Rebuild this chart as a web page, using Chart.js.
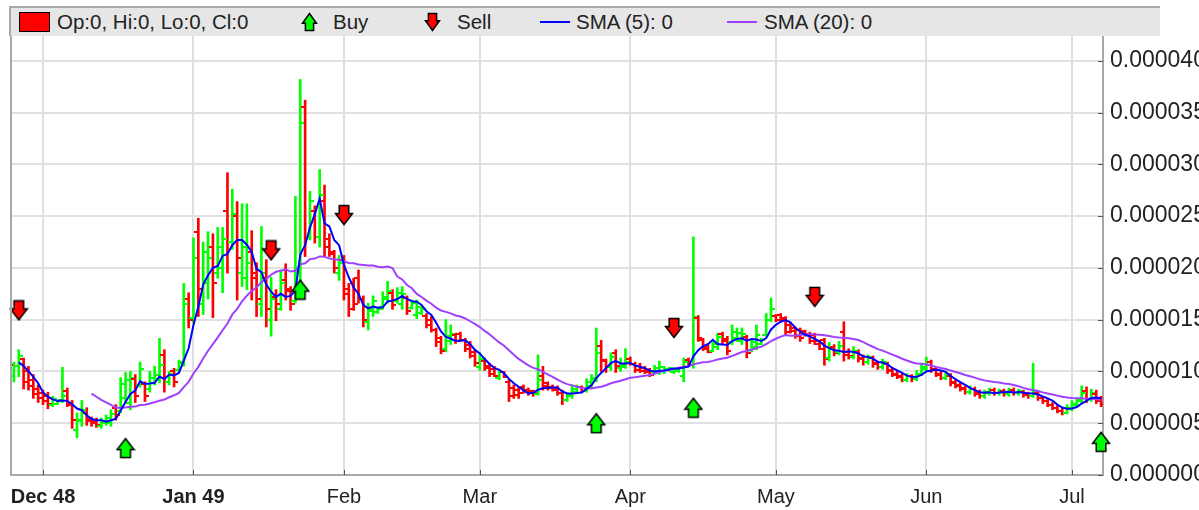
<!DOCTYPE html>
<html>
<head>
<meta charset="utf-8">
<title>OHLC with SMA</title>
<script src="https://cdn.jsdelivr.net/npm/chart.js@4.4.1/dist/chart.umd.min.js"></script>
<style>
  html, body { margin: 0; padding: 0; background: #ffffff; }
  #wrap { position: relative; width: 1199px; height: 510px; overflow: hidden; }
  #chart { position: absolute; left: 0; top: 0; }
  #legend {
    position: absolute; left: 9px; top: 6px; width: 1151px; height: 30px;
    box-sizing: border-box; background: #e6e6e6;
    border-top: 2px solid #a8a8a8; border-left: 2px solid #a8a8a8;
    font: 20.5px "Liberation Sans", Arial, sans-serif; color: #222;
  }
  #legend .txt { position: absolute; top: 0; height: 28px; line-height: 28px; white-space: nowrap; }
  #legend .box { position: absolute; top: 4px; left: 8px; width: 31px; height: 20px; box-sizing: border-box;
                 background: #ff0000; border: 1px solid #000; }
  #legend .ln { position: absolute; top: 13px; width: 30px; height: 2px; }
  #legend canvas { position: absolute; top: 4px; }
</style>
</head>
<body>
<div id="wrap">
  <canvas id="chart" width="1199" height="510"></canvas>
  <div id="legend">
    <div class="box"></div>
    <div class="txt" style="left:46px">Op:0, Hi:0, Lo:0, Cl:0</div>
    <span id="legBuy"></span>
    <div class="txt" style="left:322px">Buy</div>
    <span id="legSell"></span>
    <div class="txt" style="left:446px">Sell</div>
    <div class="ln" style="left:529px;background:#0000ff"></div>
    <div class="txt" style="left:565px">SMA (5): 0</div>
    <div class="ln" style="left:716px;background:#a040ff"></div>
    <div class="txt" style="left:753px">SMA (20): 0</div>
  </div>
</div>
<script>
// values in units of 1e-6, one bar per calendar day, day 0 = 1 Dec 48
const firstDay = -9;

const open = [
  12.3, 10.8, 11.0, 9.6, 10.5, 11.2, 10.0, 9.2, 8.3,
  7.9, 7.6, 6.8, 6.9, 7.2, 8.1, 6.8, 4.3, 5.3, 6.0,
  5.4, 5.2, 4.7, 5.0, 5.0, 6.5, 6.2, 7.4, 7.0, 9.3,
  8.7, 8.8, 8.3, 8.9, 9.3, 11.6, 9.0, 10.0, 10.1, 10.8,
  17.0, 15.2, 23.5, 16.5, 18.5, 22.0, 19.5, 20.0, 25.5, 22.5,
  25.0, 19.5, 19.0, 21.5, 19.5, 16.5, 19.0, 15.0, 17.2, 16.0,
  18.8, 17.8, 16.8, 18.0, 35.5, 23.0, 25.5, 23.0, 26.5, 22.8,
  21.3, 19.5, 20.8, 18.0, 18.5, 19.0, 17.0, 14.8, 15.8, 15.7,
  16.2, 17.0, 17.6, 16.8, 16.5, 17.1, 16.1, 15.5, 15.6, 15.4,
  15.0, 14.0, 13.2, 12.2, 12.9, 13.5, 13.6, 13.0, 12.6, 11.9,
  10.4, 11.0, 10.5, 10.2, 9.4, 9.9, 9.0, 8.4, 8.2, 8.5,
  8.2, 8.1, 7.8, 9.6, 8.9, 8.5, 8.3, 7.9, 7.2, 7.6,
  8.0, 8.5, 8.1, 8.6, 9.3, 12.5, 11.1, 10.4, 11.8, 10.3,
  10.4, 11.2, 10.7, 10.5, 10.3, 10.1, 9.9, 9.9, 10.0, 10.1,
  9.9, 10.0, 9.6, 11.1, 10.6, 15.2, 13.0, 12.4, 12.0, 12.4,
  13.6, 13.1, 12.8, 13.2, 12.9, 13.3, 12.1, 12.4, 12.7, 13.5,
  15.0, 15.4, 15.5, 15.2, 14.5, 14.2, 14.0, 13.9, 13.6, 13.5,
  12.9, 13.0, 11.3, 12.4, 11.9, 13.8, 11.9, 11.4, 11.9, 11.3,
  10.9, 11.3, 10.8, 10.4, 10.7, 10.1, 9.8, 9.6, 9.2, 9.6,
  9.3, 9.8, 10.2, 10.9, 10.2, 9.8, 9.4, 9.6, 9.0, 8.7,
  8.4, 8.0, 8.3, 7.9, 7.6, 7.9, 8.2, 7.9, 8.1, 7.8,
  8.2, 7.9, 8.0, 7.8, 7.6, 7.9, 7.4, 7.1, 6.8, 6.5,
  6.2, 6.0, 6.4, 6.8, 7.1, 8.1, 7.3, 7.8, 7.2
];

const high = [
  12.8, 12.2, 12.5, 10.9, 12.1, 11.3, 10.5, 9.7, 8.7,
  8.2, 8.0, 7.6, 7.2, 10.4, 8.4, 7.2, 6.0, 7.2, 6.5,
  5.6, 5.5, 5.5, 5.8, 6.3, 6.8, 9.4, 9.9, 10.0, 9.7,
  10.9, 9.0, 10.0, 10.5, 13.2, 12.1, 10.0, 10.3, 11.1, 18.5,
  17.6, 22.9, 24.8, 22.5, 23.5, 23.3, 23.9, 23.9, 29.2, 27.6,
  26.4, 26.2, 26.2, 23.6, 20.5, 24.0, 20.8, 19.1, 17.9, 19.8,
  20.4, 18.2, 26.9, 38.2, 36.2, 27.4, 26.0, 29.5, 28.0, 23.3,
  21.7, 21.2, 21.2, 18.5, 19.0, 19.8, 17.3, 16.6, 17.3, 16.2,
  17.7, 18.7, 17.9, 18.1, 18.2, 17.3, 16.9, 16.9, 16.3, 15.6,
  15.3, 14.2, 13.4, 15.0, 14.5, 13.7, 13.8, 13.2, 12.9, 12.1,
  11.8, 11.3, 10.8, 10.5, 10.1, 10.0, 9.2, 8.7, 8.5, 8.7,
  8.4, 8.2, 11.6, 10.5, 9.0, 8.7, 8.6, 8.2, 7.9, 8.7,
  8.7, 8.6, 9.3, 9.7, 14.2, 13.0, 11.2, 11.8, 12.1, 11.3,
  12.2, 11.4, 10.9, 10.8, 10.5, 10.3, 10.6, 11.0, 10.5, 10.4,
  10.3, 10.3, 11.3, 11.3, 23.0, 15.4, 13.2, 12.7, 13.0, 13.7,
  13.8, 13.4, 14.5, 14.2, 14.2, 13.5, 13.0, 14.5, 13.2, 15.6,
  17.1, 15.5, 15.6, 15.3, 14.7, 14.3, 14.2, 14.0, 13.8, 13.7,
  13.0, 13.2, 12.8, 12.6, 12.9, 14.8, 12.2, 12.4, 12.1, 11.6,
  11.6, 11.5, 11.0, 11.2, 10.9, 10.3, 10.0, 9.8, 9.8, 9.7,
  10.1, 10.8, 11.4, 11.1, 10.4, 10.0, 10.0, 9.8, 9.2, 8.9,
  8.6, 8.6, 8.5, 8.2, 8.2, 8.4, 8.4, 8.3, 8.3, 8.4,
  8.4, 8.3, 8.2, 8.0, 10.8, 8.1, 7.6, 7.3, 7.0, 6.7,
  6.5, 6.8, 7.2, 7.4, 8.6, 8.5, 8.3, 8.2, 7.6
];

const low = [
  10.6, 10.5, 10.2, 9.0, 9.5, 8.3, 8.2, 7.4, 7.0,
  6.8, 6.4, 6.6, 6.8, 7.0, 6.6, 4.5, 3.6, 4.7, 4.8,
  4.7, 4.6, 4.5, 4.8, 4.7, 5.3, 6.0, 7.0, 6.3, 7.0,
  8.5, 7.1, 8.0, 8.7, 8.9, 8.0, 8.7, 8.5, 10.0, 10.5,
  14.2, 14.7, 15.3, 15.5, 17.0, 15.2, 19.0, 17.6, 19.5, 21.8,
  16.9, 18.2, 17.9, 16.9, 15.3, 15.3, 14.3, 13.4, 14.9, 15.9,
  16.9, 15.9, 16.6, 17.0, 21.1, 22.7, 22.4, 22.0, 21.1, 21.1,
  19.5, 18.8, 16.9, 15.3, 15.9, 16.6, 14.3, 14.0, 15.3, 15.6,
  16.0, 16.6, 16.0, 16.6, 16.0, 15.5, 16.0, 15.1, 15.5, 14.2,
  13.8, 12.4, 11.7, 11.9, 12.6, 12.7, 12.9, 11.9, 11.3, 10.5,
  10.1, 10.1, 9.5, 9.5, 9.2, 9.4, 7.1, 7.4, 7.4, 7.9,
  7.7, 7.6, 7.7, 8.2, 8.2, 8.1, 7.7, 6.8, 7.1, 7.4,
  7.9, 8.0, 8.0, 8.4, 9.0, 10.0, 9.9, 10.1, 9.9, 10.0,
  10.3, 10.6, 9.9, 9.9, 9.8, 9.5, 9.8, 9.7, 9.8, 10.0,
  9.8, 9.9, 9.0, 10.5, 10.3, 12.9, 12.0, 11.8, 11.9, 12.1,
  12.6, 11.6, 12.6, 12.9, 12.6, 11.3, 11.9, 12.1, 12.6, 13.4,
  14.8, 14.8, 14.8, 13.5, 13.7, 13.2, 12.9, 13.4, 12.7, 12.6,
  12.1, 10.6, 11.0, 11.5, 11.6, 11.0, 11.2, 11.2, 10.9, 10.6,
  10.7, 10.4, 10.2, 10.2, 9.8, 9.5, 9.3, 9.0, 9.0, 9.0,
  9.1, 9.6, 10.0, 9.9, 9.5, 9.2, 9.2, 8.6, 8.4, 8.1,
  7.8, 7.8, 7.6, 7.4, 7.4, 7.7, 7.7, 7.7, 7.6, 7.6,
  7.7, 7.7, 7.5, 7.4, 7.5, 7.2, 6.9, 6.6, 6.3, 6.0,
  5.8, 5.9, 6.2, 6.6, 6.9, 7.0, 7.1, 6.9, 6.6
];

const close = [
  10.8, 11.0, 10.6, 10.5, 11.5, 9.0, 8.6, 7.8, 7.4,
  7.1, 6.9, 7.3, 7.1, 7.6, 6.9, 5.3, 5.2, 6.3, 5.2,
  5.0, 4.8, 5.2, 5.5, 5.9, 5.8, 8.8, 9.2, 9.4, 7.6,
  10.2, 7.6, 9.4, 9.7, 10.6, 9.0, 9.8, 9.0, 10.9, 16.5,
  15.0, 21.0, 18.0, 21.5, 21.0, 18.5, 22.0, 22.8, 22.5, 25.2,
  21.0, 22.0, 20.5, 19.0, 17.0, 19.5, 16.0, 17.0, 16.5, 18.5,
  18.0, 16.5, 19.5, 34.0, 23.0, 26.5, 23.0, 27.0, 22.0, 21.5,
  20.0, 20.5, 17.5, 16.0, 16.5, 17.0, 15.0, 16.0, 16.8, 16.0,
  17.2, 17.8, 16.4, 17.6, 17.5, 15.8, 16.6, 16.2, 16.0, 14.5,
  14.0, 12.8, 12.0, 13.4, 13.6, 12.9, 13.0, 12.2, 11.5, 10.8,
  11.2, 10.3, 9.8, 9.6, 9.9, 9.5, 7.6, 7.7, 7.9, 8.2,
  8.0, 7.9, 9.2, 8.6, 8.4, 8.2, 7.9, 7.2, 7.7, 8.3,
  8.5, 8.1, 9.0, 9.4, 11.8, 11.0, 10.4, 11.4, 10.5, 10.6,
  10.9, 10.7, 10.1, 10.0, 9.9, 9.7, 10.3, 10.4, 10.2, 10.3,
  10.2, 10.3, 10.9, 10.6, 15.3, 13.2, 12.2, 11.9, 12.7, 13.3,
  12.9, 12.0, 13.8, 13.7, 13.6, 11.8, 12.8, 13.5, 13.0, 15.0,
  16.0, 15.0, 15.0, 13.8, 13.9, 13.4, 13.2, 13.5, 12.9, 12.7,
  12.2, 11.2, 12.3, 11.8, 12.5, 11.6, 11.5, 12.0, 11.2, 10.9,
  11.4, 10.7, 10.4, 10.9, 10.0, 9.7, 9.5, 9.2, 9.6, 9.3,
  9.8, 10.4, 10.9, 10.1, 9.7, 9.4, 9.7, 8.9, 8.6, 8.3,
  8.0, 8.3, 7.8, 7.6, 8.0, 8.2, 7.9, 8.1, 7.8, 8.2,
  7.9, 8.1, 7.7, 7.6, 8.1, 7.4, 7.1, 6.8, 6.5, 6.2,
  6.0, 6.5, 6.9, 7.2, 7.9, 7.3, 7.9, 7.1, 6.9
];

const buyDays = [17, 53, 114, 134, 218];
const buyLevels = [2.6, 17.9, 5.0, 6.5, 3.2];
const sellDays = [-5, 47, 62, 130, 159];
const sellLevels = [15.9, 21.7, 25.1, 14.2, 17.2];

const monthDays = [0, 31, 62, 90, 121, 151, 182, 212];
const monthLabels = ['Dec 48', 'Jan 49', 'Feb', 'Mar', 'Apr', 'May', 'Jun', 'Jul'];
const priceTicks = [0, 5, 10, 15, 20, 25, 30, 35, 40];

const smaShort = 5;
const smaLong = 20;

const UP = '#00ff00';
const DOWN = '#ff0000';
const FONT = '"Liberation Sans", Arial, sans-serif';

const days = close.map((c, i) => firstDay + i);
const isUp = close.map((c, i) => c >= open[i]);

function movingAverage(values, n) {
    const out = [];
    for (let i = n - 1; i < values.length; i++) {
        let sum = 0;
        for (let k = i - n + 1; k <= i; k++) sum += values[k];
        out.push({ x: days[i], y: sum / n });
    }
    return out;
}

// little canvases used as point styles
function makeArrow(up, w, h, fill) {
    const c = document.createElement('canvas');
    c.width = w; c.height = h;
    const g = c.getContext('2d');
    const m = 1.5, cx = w / 2, sw = w * 0.48;
    const yA = m, yB = h - m;
    const split = m + (h - 2 * m) * 0.42;
    g.beginPath();
    if (up) {
        const ys = h - split;
        g.moveTo(cx - sw / 2, yB); g.lineTo(cx + sw / 2, yB); g.lineTo(cx + sw / 2, ys);
        g.lineTo(w - m, ys); g.lineTo(cx, yA); g.lineTo(m, ys); g.lineTo(cx - sw / 2, ys);
    } else {
        g.moveTo(cx - sw / 2, yA); g.lineTo(cx + sw / 2, yA); g.lineTo(cx + sw / 2, split);
        g.lineTo(w - m, split); g.lineTo(cx, yB); g.lineTo(m, split); g.lineTo(cx - sw / 2, split);
    }
    g.closePath();
    g.fillStyle = fill;
    g.fill();
    g.lineWidth = 1.5;
    g.strokeStyle = '#000';
    g.lineJoin = 'miter';
    g.stroke();
    return c;
}

function makeTick(left, color) {
    const c = document.createElement('canvas');
    c.width = 8; c.height = 2;
    const g = c.getContext('2d');
    g.fillStyle = color;
    g.fillRect(left ? 0 : 4, 0, 4, 2);
    return c;
}

const openUp = makeTick(true, UP), openDown = makeTick(true, DOWN);
const closeUp = makeTick(false, UP), closeDown = makeTick(false, DOWN);
const buyArrow = makeArrow(true, 20, 22, '#00ff00');
const sellArrow = makeArrow(false, 20, 22, '#ff0000');

// legend icons
const lb = makeArrow(true, 17, 20, '#00ff00');
lb.style.left = '290px';
document.getElementById('legBuy').appendChild(lb);
const ls = makeArrow(false, 17, 20, '#ff0000');
ls.style.left = '413px';
document.getElementById('legSell').appendChild(ls);

const framePlugin = {
    id: 'frame',
    afterDraw(chart) {
        const { ctx, chartArea: a, scales: { x, y } } = chart;
        ctx.save();
        ctx.strokeStyle = '#a8a8a8';
        ctx.lineWidth = 2;
        ctx.beginPath();
        ctx.moveTo(a.left, 6);
        ctx.lineTo(a.left, a.bottom);
        ctx.stroke();
        ctx.strokeStyle = '#555';
        ctx.lineWidth = 1;
        y.ticks.forEach(t => {
            const py = Math.round(y.getPixelForValue(t.value)) + 0.5;
            ctx.beginPath(); ctx.moveTo(a.right - 5, py); ctx.lineTo(a.right, py); ctx.stroke();
        });
        x.ticks.forEach(t => {
            const px = Math.round(x.getPixelForValue(t.value)) + 0.5;
            ctx.beginPath(); ctx.moveTo(px, a.bottom - 5); ctx.lineTo(px, a.bottom); ctx.stroke();
        });
        ctx.restore();
    }
};

new Chart(document.getElementById('chart'), {
    type: 'scatter',
    data: {
        datasets: [
            {
                label: 'Buy',
                data: buyDays.map((d, i) => ({ x: d, y: buyLevels[i] })),
                pointStyle: buyArrow,
                pointRadius: 10,
                clip: false,
                order: 0
            },
            {
                label: 'Sell',
                data: sellDays.map((d, i) => ({ x: d, y: sellLevels[i] })),
                pointStyle: sellArrow,
                pointRadius: 10,
                clip: false,
                order: 0
            },
            {
                type: 'line',
                label: 'SMA (5)',
                data: movingAverage(close, smaShort),
                borderColor: '#0000ff',
                borderWidth: 2,
                pointRadius: 0,
                tension: 0,
                order: 1
            },
            {
                type: 'line',
                label: 'SMA (20)',
                data: movingAverage(close, smaLong),
                borderColor: '#a040ff',
                borderWidth: 2,
                pointRadius: 0,
                tension: 0,
                order: 2
            },
            {
                label: 'Open',
                data: days.map((d, i) => ({ x: d, y: open[i] })),
                pointStyle: isUp.map(u => u ? openUp : openDown),
                pointRadius: 2,
                order: 3
            },
            {
                label: 'Close',
                data: days.map((d, i) => ({ x: d, y: close[i] })),
                pointStyle: isUp.map(u => u ? closeUp : closeDown),
                pointRadius: 2,
                order: 3
            },
            {
                type: 'bar',
                label: 'High-Low',
                data: days.map((d, i) => ({ x: d, y: [low[i], high[i]] })),
                backgroundColor: isUp.map(u => u ? UP : DOWN),
                borderWidth: 0,
                barThickness: 2,
                order: 5
            }
        ]
    },
    options: {
        responsive: false,
        animation: false,
        devicePixelRatio: 1,
        events: [],
        layout: { padding: { left: 10, top: 36, right: 0, bottom: 0 } },
        plugins: {
            legend: { display: false },
            tooltip: { enabled: false }
        },
        scales: {
            x: {
                type: 'linear',
                position: 'bottom',
                min: -6.6,
                max: 218.4,
                offset: false,
                grid: { color: '#e0e0e0', lineWidth: 2, drawTicks: false, offset: false },
                border: { display: true, color: '#a8a8a8', width: 2 },
                afterBuildTicks: scale => { scale.ticks = monthDays.map(v => ({ value: v })); },
                afterFit: scale => { scale.height = 35; },
                ticks: {
                    autoSkip: false,
                    maxRotation: 0,
                    padding: 10,
                    color: '#222',
                    font: c => ({ family: FONT, size: 20, weight: c.index < 2 ? 'bold' : 'normal' }),
                    callback: v => monthLabels[monthDays.indexOf(v)]
                }
            },
            y: {
                type: 'linear',
                position: 'right',
                min: 0,
                max: 42.4,
                grid: { color: '#e0e0e0', lineWidth: 2, drawTicks: false },
                border: { display: true, color: '#a8a8a8', width: 2 },
                afterBuildTicks: scale => { scale.ticks = priceTicks.map(v => ({ value: v })); },
                afterFit: scale => { scale.width = 96; },
                ticks: {
                    autoSkip: false,
                    padding: 7,
                    color: '#222',
                    font: { family: FONT, size: 23 },
                    callback: v => (v * 1e-6).toFixed(6)
                }
            }
        }
    },
    plugins: [framePlugin]
});
</script>
</body>
</html>
